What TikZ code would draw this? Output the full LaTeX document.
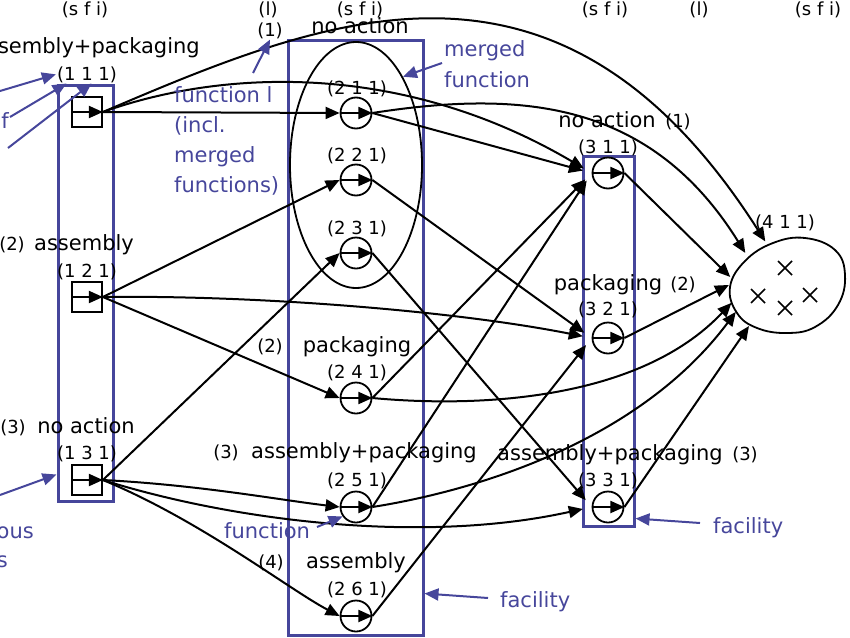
\documentclass[tikz,border=0pt]{standalone}
\usepackage{fontspec}
\setmainfont{DejaVu Sans}
\usepackage{tikz}
\usetikzlibrary{arrows.meta,shapes.geometric}
\definecolor{facblue}{RGB}{70,70,155}
\newcommand\lblfont{\fontsize{21}{25}\selectfont}
\newcommand\idxfont{\fontsize{18}{20}\selectfont}

\begin{document}
\begin{tikzpicture}[x=1pt,y=-1pt,
  edge/.style={-{Triangle[length=14pt,width=12pt]},line width=2pt},
  bedge/.style={-{Triangle[length=14pt,width=12pt]},line width=2pt,draw=facblue,fill=facblue},
  fac/.style={draw=facblue,line width=3pt,inner sep=0pt},
  sq/.style={draw,line width=1.8pt,minimum size=30pt,inner sep=0pt},
  fn/.style={draw,circle,line width=1.8pt,minimum size=31pt,inner sep=0pt},
  lbl/.style={anchor=base,inner sep=1pt,font=\lblfont},
  idx/.style={anchor=base,inner sep=1pt,font=\idxfont},
  btxt/.style={anchor=base west,inner sep=1pt,font=\lblfont,text=facblue}]
\useasboundingbox (0,0) rectangle (850,637);

% facilities and merged function
\node[fac,minimum width=55pt,minimum height=416pt] (fac1) at (85.5,293) {};
\node[fac,minimum width=135pt,minimum height=595pt] (fac2) at (355.5,337.5) {};
\node[fac,minimum width=51pt,minimum height=370pt] (fac3) at (608.5,341) {};
\node[draw,ellipse,line width=1.8pt,minimum width=132pt,minimum height=246pt,inner sep=0pt] (mrg) at (356,165) {};

% function nodes
\foreach \n/\y in {n111/112,n121/297,n131/480}
  \node[sq] (\n) at (87,\y) {};
\foreach \n/\y in {n211/113,n221/180,n231/253,n241/398,n251/507,n261/616}
  \node[fn] (\n) at (356,\y) {};
\foreach \n/\y in {n311/173,n321/338,n331/507}
  \node[fn] (\n) at (608,\y) {};
\foreach \n in {n111,n121,n131,n211,n221,n231,n241,n251,n261,n311,n321,n331}
  \draw[edge] (\n.west) -- (\n.east);

% end node
\draw[line width=1.8pt] plot[smooth cycle,tension=0.7] coordinates {(730,287) (745,261)
  (773,243) (805,238) (835,250) (845,275) (838,305) (815,327) (787,333) (757,328) (737,313)};
\node[ellipse,minimum width=116pt,minimum height=100pt,inner sep=0pt] (n411) at (787,288) {};
\foreach \x/\y in {785/268,758/296,785/308,810/295}
  \draw[line width=1.6pt] (\x-7,\y-7) -- (\x+7,\y+7) (\x-7,\y+7) -- (\x+7,\y-7);

% headers
\foreach[count=\i] \x/\t in {85/{(s f i)},268/(l),360/{(s f i)},605/{(s f i)},699/(l),818/{(s f i)}}
  \node[idx] (hd\i) at (\x,15) {\t};
\node[idx] (l1) at (270,36) {(1)};

% labels stage 1
\node[lbl] (t11) at (87,53) {assembly+packaging};
\node[idx] (l111) at (87,80) {(1 1 1)};
\node[idx] (i12) at (12,250) {(2)};
\node[lbl] (t12) at (84,250) {assembly};
\node[idx] (l121) at (87,277) {(1 2 1)};
\node[idx] (i13) at (13,433) {(3)};
\node[lbl] (t13) at (86,433) {no action};
\node[idx] (l131) at (87,459) {(1 3 1)};

% labels stage 2
\node[lbl] (t21) at (360,33) {no action};
\node[idx] (l211) at (357,94) {(2 1 1)};
\node[idx] (l221) at (357,161) {(2 2 1)};
\node[idx] (l231) at (357,234) {(2 3 1)};
\node[idx] (i24) at (270,352) {(2)};
\node[lbl] (t24) at (357,352) {packaging};
\node[idx] (l241) at (357,378) {(2 4 1)};
\node[idx] (i25) at (226,458) {(3)};
\node[lbl] (t25) at (364,458) {assembly+packaging};
\node[idx] (l251) at (357,486) {(2 5 1)};
\node[idx] (i26) at (271,568) {(4)};
\node[lbl] (t26) at (356,568) {assembly};
\node[idx] (l261) at (357,595) {(2 6 1)};

% labels stage 3 and 4
\node[lbl] (t31) at (607,127) {no action};
\node[idx] (i31) at (678,127) {(1)};
\node[idx] (l311) at (608,153) {(3 1 1)};
\node[lbl] (t32) at (608,290) {packaging};
\node[idx] (i32) at (683,290) {(2)};
\node[idx] (l321) at (608,315) {(3 2 1)};
\node[lbl] (t33) at (610,460) {assembly+packaging};
\node[idx] (i33) at (745,460) {(3)};
\node[idx] (l331) at (608,486) {(3 3 1)};
\node[idx] (l411) at (785,228) {(4 1 1)};

% straight connectors
\foreach \a/\b in {n111/n211,n121/n221,n121/n241,n131/n231}
  \draw[edge] (\a.east) -- (\b.west);
\foreach \a/\b in {n211/n311,n221/n321,n231/n331,n241/n311,n251/n311,n261/n321}
  \draw[edge,shorten >=9pt] (\a.east) -- (\b.west);
\foreach \a/\ang in {n311/169,n321/177,n331/225}
  \draw[edge] (\a.east) -- (n411.\ang);

% curved connectors
\draw[edge] (n111.east) .. controls (330,15) and (560,-80) .. (n411.115);
\draw[edge,shorten >=9pt] (n111.east) .. controls (220,70) and (400,60) .. (n311.west);
\draw[edge] (n211.east) .. controls (520,90) and (650,100) .. (n411.140);
\draw[edge,shorten >=9pt] (n121.east) .. controls (250,295) and (450,310) .. (n321.west);
\draw[edge] (n131.east) .. controls (200,485) and (280,500) .. (n251.west);
\draw[edge,shorten >=9pt] (n131.east) .. controls (230,520) and (420,545) .. (n331.west);
\draw[edge] (n131.east) .. controls (200,520) and (290,590) .. (n261.west);
\draw[edge] (n241.east) .. controls (480,408) and (640,400) .. (n411.195);
\draw[edge] (n251.east) .. controls (480,490) and (640,440) .. (n411.205);

% blue notes
\node[btxt,anchor=base east] (frag1) at (10,128) {f};
\node[btxt,anchor=base east] (frag2) at (35,538) {ous};
\node[btxt,anchor=base east] (frag3) at (9,567) {s};
\foreach[count=\i] \t in {function l,{(incl.},merged,{functions)}}
  \node[btxt] (fl\i) at (173,72+30*\i) {\t};
\node[btxt] (mf1) at (443,56) {merged};
\node[btxt] (mf2) at (443,87) {function};
\node[btxt] (fnl) at (223,538) {function};
\node[btxt] (fc2) at (499,607) {facility};
\node[btxt] (fc3) at (712,533) {facility};

\coordinate (c1) at (0,91);
\coordinate (c2) at (10,117);
\coordinate (c3) at (8,148);
\coordinate (c4) at (0,495);
\coordinate (c5) at (253,73);
\coordinate (c6) at (442,63);
\coordinate (c7) at (317,527);
\coordinate (c8) at (488,598);
\coordinate (c9) at (700,523);
\draw[bedge] (c1) -- (l111.west);
\draw[bedge] (c2) -- ([xshift=10pt]fac1.north west);
\draw[bedge] (c3) -- ([xshift=35pt]fac1.north west);
\draw[bedge] (c4) -- ([yshift=28pt]fac1.south west);
\draw[bedge] (c5) -- (l1.south);
\draw[bedge] (c6) -- (mrg.62);
\draw[bedge] (c7) -- (n251.215);
\draw[bedge] (c8) -- ([yshift=43pt]fac2.south east);
\draw[bedge] (c9) -- ([yshift=9pt]fac3.south east);
\end{tikzpicture}
\end{document}
